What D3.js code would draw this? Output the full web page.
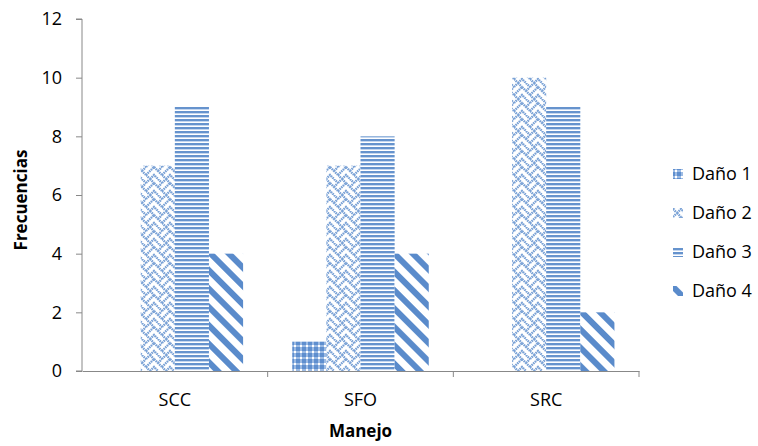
<!DOCTYPE html>
<html>
<head>
<meta charset="utf-8">
<script src="https://cdn.jsdelivr.net/npm/d3@7"></script>
<style>
  body { margin: 0; background: #fff; }
  svg { display: block; font-family: "Open Sans", sans-serif; }
</style>
</head>
<body>
<svg id="chart" width="758" height="446"></svg>
<script>
const categories = ["SCC", "SFO", "SRC"];
const seriesNames = ["Daño 1", "Daño 2", "Daño 3", "Daño 4"];
const dano1 = [0, 1, 0];
const dano2 = [7, 7, 10];
const dano3 = [9, 8, 9];
const dano4 = [4, 4, 2];
const yTicks = [0, 2, 4, 6, 8, 10, 12];

const seriesValues = [dano1, dano2, dano3, dano4];
const blue = "#5a8bcb";
const fontFamily = "'Open Sans', sans-serif";

const svg = d3.select("#chart");
const margin = { left: 82, right: 119, top: 19, bottom: 75 };
const width = 758 - margin.left - margin.right;
const height = 446 - margin.top - margin.bottom;

// Fill patterns for each series
const defs = svg.append("defs");

// Daño 1: blue lattice with small white crosses
const p1 = defs.append("pattern").attr("id", "pat0").attr("patternUnits", "userSpaceOnUse")
  .attr("width", 6).attr("height", 6);
p1.append("rect").attr("width", 6).attr("height", 6).attr("fill", "#5f8fcf");
p1.append("rect").attr("x", 0).attr("y", 2).attr("width", 6).attr("height", 2).attr("fill", "#9dbbe3");
p1.append("rect").attr("x", 2).attr("y", 0).attr("width", 2).attr("height", 6).attr("fill", "#9dbbe3");
p1.append("rect").attr("x", 2).attr("y", 2).attr("width", 2).attr("height", 2).attr("fill", "#ffffff");

// Daño 2: woven zig-zag
const p2 = defs.append("pattern").attr("id", "pat1").attr("patternUnits", "userSpaceOnUse")
  .attr("width", 16).attr("height", 16);
p2.append("rect").attr("width", 16).attr("height", 16).attr("fill", "#fff");
p2.append("path")
  .attr("d", "M0,4 L4,0 M0,12 L8,4 L12,8 M4,16 L8,12 L12,16 M12,8 L16,4 M12,0 L16,4 M16,12 L12,8 M4,0 L8,4 M0,12 L4,16")
  .attr("stroke", "#7aa2d6").attr("stroke-width", 2.4).attr("fill", "none").attr("stroke-dasharray", "1.6,0.7");

// Daño 3: narrow horizontal stripes
const p3 = defs.append("pattern").attr("id", "pat2").attr("patternUnits", "userSpaceOnUse")
  .attr("width", 8).attr("height", 4);
p3.append("rect").attr("width", 8).attr("height", 4).attr("fill", "#fff");
p3.append("rect").attr("y", 0).attr("width", 8).attr("height", 2).attr("fill", "#6693cd");
p3.append("rect").attr("y", 2).attr("width", 8).attr("height", 1).attr("fill", "#c5d7ef");

// Daño 4: wide downward diagonal stripes
const p4 = defs.append("pattern").attr("id", "pat3").attr("patternUnits", "userSpaceOnUse")
  .attr("width", 13).attr("height", 13).attr("patternTransform", "rotate(-45)");
p4.append("rect").attr("width", 13).attr("height", 13).attr("fill", "#fff");
p4.append("rect").attr("x", 0).attr("width", 6).attr("height", 13).attr("fill", blue);

const g = svg.append("g").attr("transform", `translate(${margin.left},${margin.top})`);

const x0 = d3.scaleBand().domain(categories).range([0, width]).paddingInner(0).paddingOuter(0);
const x1 = d3.scaleBand().domain(d3.range(seriesNames.length)).range([0, x0.bandwidth()])
  .paddingInner(0).paddingOuter(0.72);
const y = d3.scaleLinear().domain([0, 12]).range([height, 0]);

// Bars
categories.forEach((c, ci) => {
  seriesValues.forEach((vals, si) => {
    if (vals[ci] <= 0) return;
    g.append("rect")
      .attr("x", x0(c) + x1(si))
      .attr("y", y(vals[ci]))
      .attr("width", x1.bandwidth())
      .attr("height", y(0) - y(vals[ci]))
      .attr("fill", `url(#pat${si})`);
  });
});

// Y axis
const yAxis = g.append("g").call(d3.axisLeft(y).tickValues(yTicks).tickSize(6).tickPadding(14));
yAxis.select(".domain").attr("stroke", "#888").attr("d", `M-6,0H0V${height}H-6`);
yAxis.selectAll(".tick line").attr("stroke", "#888");
yAxis.selectAll(".tick text").attr("font-size", 18).attr("fill", "#000")
  .attr("font-family", fontFamily);

// X axis
const xAxis = g.append("g").attr("transform", `translate(0,${height})`)
  .call(d3.axisBottom(x0).tickSize(0).tickPadding(22));
xAxis.select(".domain").attr("stroke", "#888");
xAxis.selectAll(".tick text").attr("font-size", 18).attr("fill", "#000")
  .attr("font-family", fontFamily);
// Category separators
categories.slice(1).forEach(c => {
  g.append("line").attr("x1", x0(c)).attr("x2", x0(c)).attr("y1", height).attr("y2", height + 6)
    .attr("stroke", "#888");
});
g.append("line").attr("x1", width).attr("x2", width).attr("y1", height).attr("y2", height + 6)
  .attr("stroke", "#888");

// Axis titles
svg.append("text").attr("x", margin.left + width / 2).attr("y", 437)
  .attr("text-anchor", "middle").attr("font-size", 17).attr("font-weight", "bold")
  .attr("font-family", fontFamily).text("Manejo");
svg.append("text").attr("transform", `translate(27,200) rotate(-90)`)
  .attr("text-anchor", "middle").attr("font-size", 17).attr("font-weight", "bold")
  .attr("font-family", fontFamily).text("Frecuencias");

// Legend
const legend = svg.append("g").attr("transform", "translate(673,174)");
seriesNames.forEach((n, i) => {
  const row = legend.append("g").attr("transform", `translate(0,${i * 39})`);
  row.append("rect").attr("x", 0).attr("y", -5).attr("width", 10).attr("height", 10)
    .attr("fill", `url(#pat${i})`);
  row.append("text").attr("x", 19).attr("y", 0).attr("dy", "0.36em")
    .attr("font-size", 18).attr("font-family", fontFamily).text(n);
});
</script>
</body>
</html>
